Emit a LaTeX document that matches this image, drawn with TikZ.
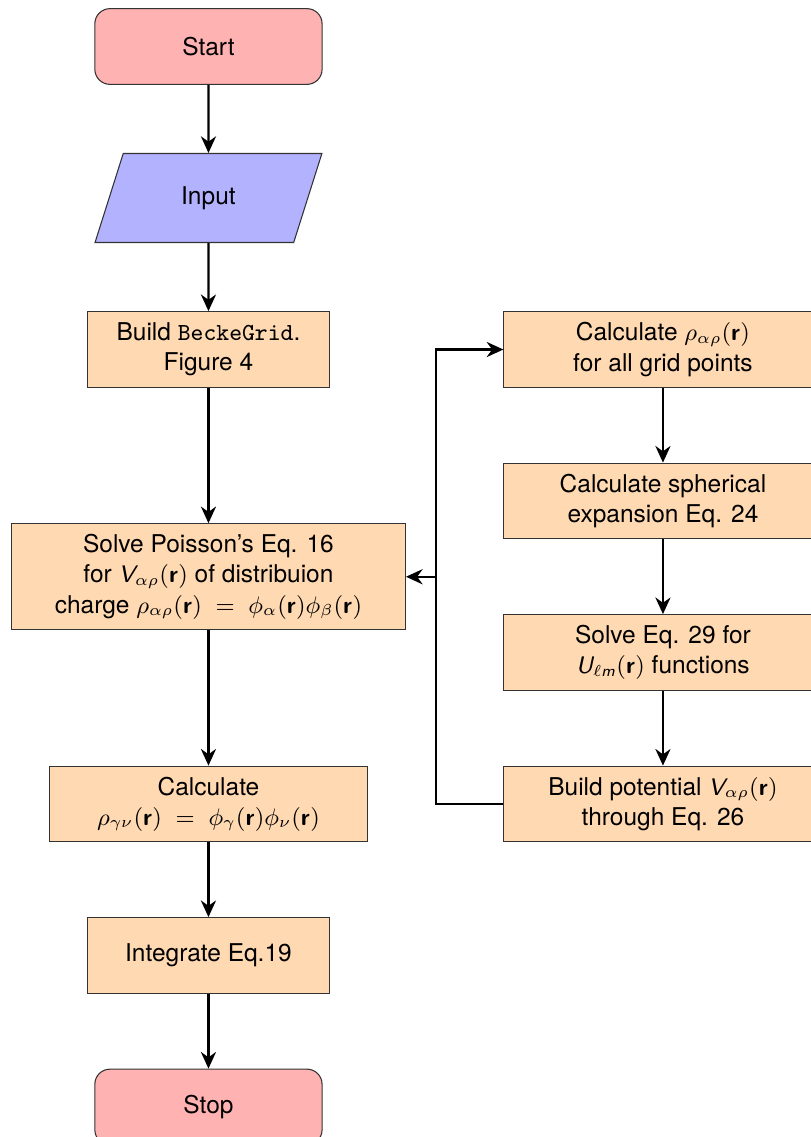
\documentclass[tikz,border=0pt]{standalone}
\usepackage{fontspec}
\setmainfont{TeX Gyre Heros}
\usetikzlibrary{shapes.geometric,arrows.meta}
\DeclareMathAlphabet{\mathsfsl}{OT1}{cmss}{m}{sl}
\DeclareMathAlphabet{\mathsfb}{OT1}{cmss}{bx}{n}
\newcommand{\rr}{\mathsfb{r}}
\begin{document}
\begin{tikzpicture}[
  every node/.style={font=\fontsize{9.2}{11.3}\selectfont},
  startstop/.style={rectangle, rounded corners=2mm, minimum width=3cm, minimum height=1cm, draw=black!80, fill=red!30, align=center},
  iobox/.style={trapezium, trapezium left angle=73.7, trapezium right angle=106.3, trapezium stretches=true, minimum width=3cm, minimum height=1.175cm, draw=black!80, fill=blue!30, align=center},
  procbox/.style={rectangle, minimum height=1cm, draw=black!80, fill=orange!30, align=center},
  conn/.style={thick, -{Stealth[length=2.2mm,width=2mm]}},
  plainconn/.style={thick}
]
\useasboundingbox (-2.752,0.614) rectangle (7.954,-14.396);
\node[startstop] (start) at (0,0) {Start};
\node[iobox] (input) at (0,-2) {Input};
\node[procbox, minimum width=3.2cm] (build) at (0,-4) {Build \texttt{BeckeGrid}.\\Figure 4};
\node[procbox, minimum width=5.2cm, minimum height=1.4cm] (solve) at (0,-7) {Solve Poisson’s Eq. 16\\for $\mathsfsl{V}_{\alpha\rho}(\rr)$ of distribuion\\charge $\rho_{\alpha\rho}(\rr)\;=\;\phi_\alpha(\rr)\phi_\beta(\rr)$};
\node[procbox, minimum width=4.2cm] (calc) at (0,-10) {Calculate\\$\rho_{\gamma\nu}(\rr)\;=\;\phi_\gamma(\rr)\phi_\nu(\rr)$};
\node[procbox, minimum width=3.2cm] (integ) at (0,-12) {Integrate Eq.19};
\node[startstop] (stop) at (0,-14) {Stop};
\node[procbox, minimum width=4.2cm] (calcrho) at (6,-4) {Calculate $\rho_{\alpha\rho}(\rr)$\\for all grid points};
\node[procbox, minimum width=4.2cm] (spher) at (6,-6) {Calculate spherical\\expansion Eq. 24};
\node[procbox, minimum width=4.2cm] (solveu) at (6,-8) {Solve Eq. 29 for\\$\mathsfsl{U}_{\ell \mathsfsl{m}}(\rr)$ functions};
\node[procbox, minimum width=4.2cm] (buildpot) at (6,-10) {Build potential $\mathsfsl{V}_{\alpha\rho}(\rr)$\\through Eq. 26};
\coordinate (j1) at (3,-10);
\coordinate (j2) at (3,-7);
\draw[conn] (start) -- (input);
\draw[conn] (input) -- (build);
\draw[conn] (build) -- (solve);
\draw[conn] (solve) -- (calc);
\draw[conn] (calc) -- (integ);
\draw[conn] (integ) -- (stop);
\draw[conn] (calcrho) -- (spher);
\draw[conn] (spher) -- (solveu);
\draw[conn] (solveu) -- (buildpot);
\draw[conn] (buildpot.west) -- (j1) |- (calcrho.west);
\draw[conn] (j2) -- (solve.east);
\end{tikzpicture}
\end{document}
